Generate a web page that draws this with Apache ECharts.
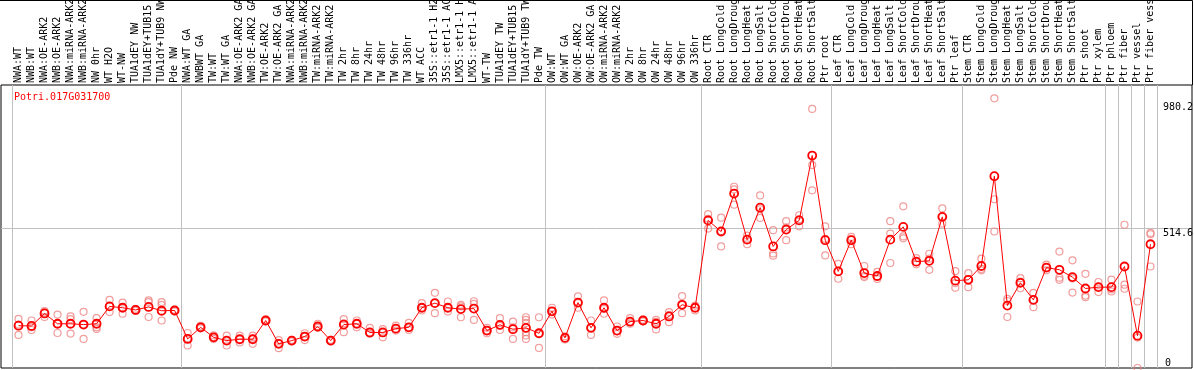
<!DOCTYPE html>
<html>
<head>
<meta charset="utf-8">
<style>
  html, body { margin: 0; padding: 0; background: #fff; }
  #chart { width: 1194px; height: 370px; }
</style>
<script src="https://cdn.jsdelivr.net/npm/echarts@6/dist/echarts.min.js"></script>
</head>
<body>
<div id="chart"></div>
<script>
const geneName = 'Potri.017G031700';

const categories = [
  'NWA:WT', 'NWB:WT', 'NWA:OE-ARK2', 'NWB:OE-ARK2', 'NWA:miRNA-ARK2', 'NWB:miRNA-ARK2',
  'NW 0hr', 'WT H2O', 'WT-NW', 'TUA1dEY NW', 'TUA1dEY+TUB15 NW', 'TUA1dY+TUB9 NW', 'Pde NW',
  'NWA:WT GA', 'NWBWT GA', 'TW:WT', 'TW:WT GA', 'NWA:OE-ARK2 GA', 'NWB:OE-ARK2 GA',
  'TW:OE-ARK2', 'TW:OE-ARK2 GA', 'NWA:miRNA-ARK2', 'NWB:miRNA-ARK2', 'TW:miRNA-ARK2', 'TW:miRNA-ARK2',
  'TW 2hr', 'TW 8hr', 'TW 24hr', 'TW 48hr', 'TW 96hr', 'TW 336hr', 'WT ACC',
  '35S::etr1-1 H2O', '35S::etr1-1 ACC', 'LMX5::etr1-1 H2O', 'LMX5::etr1-1 ACC',
  'WT-TW', 'TUA1dEY TW', 'TUA1dEY+TUB15 TW', 'TUA1dY+TUB9 TW', 'Pde TW',
  'OW:WT', 'OW:WT GA', 'OW:OE-ARK2', 'OW:OE-ARK2 GA', 'OW:miRNA-ARK2', 'OW:miRNA-ARK2',
  'OW 2hr', 'OW 8hr', 'OW 24hr', 'OW 48hr', 'OW 96hr', 'OW 336hr',
  'Root CTR', 'Root LongCold', 'Root LongDrought', 'Root LongHeat', 'Root LongSalt',
  'Root ShortCold', 'Root ShortDrought', 'Root ShortHeat', 'Root ShortSalt', 'Ptr root',
  'Leaf CTR', 'Leaf LongCold', 'Leaf LongDrought', 'Leaf LongHeat', 'Leaf LongSalt',
  'Leaf ShortCold', 'Leaf ShortDrought', 'Leaf ShortHeat', 'Leaf ShortSalt', 'Ptr leaf',
  'Stem CTR', 'Stem LongCold', 'Stem LongDrought', 'Stem LongHeat', 'Stem LongSalt',
  'Stem ShortCold', 'Stem ShortDrought', 'Stem ShortHeat', 'Stem ShortSalt', 'Ptr shoot',
  'Ptr xylem', 'Ptr phloem', 'Ptr fiber', 'Ptr vessel', 'Ptr fiber vessel'
];

// mean expression per sample (red line)
const meanValues = [
  156, 155, 201, 163, 163, 160, 163, 227, 222, 214, 225, 211, 212,
  107, 150, 113, 101, 106, 106, 175, 89, 101, 116, 153, 101, 160, 163, 131, 131, 145,
  150, 222, 239, 222, 217, 219, 138, 159, 143, 148, 128,
  209, 111, 241, 148, 222, 138, 171, 175, 163, 190, 233, 222,
  544, 503, 643, 473, 591, 448, 510, 544, 783, 471,
  356, 471, 350, 339, 473, 520, 392, 395, 557, 322,
  325, 376, 707, 230, 314, 251, 370, 362, 335, 293,
  298, 298, 374, 119, 456
];

// individual replicates (pink circles)
const replicates = [
  [181, 160, 122], [175, 150, 140], [210, 205, 188], [197, 163, 129], [190, 180, 127],
  [207, 160, 107], [184, 150, 144], [251, 227, 206], [241, 224, 200], [218, 214, 210],
  [249, 243, 188], [243, 233, 175], [215, 212, 209],
  [129, 110, 83], [155, 150, 146], [120, 113, 107], [119, 101, 83], [119, 106, 94],
  [119, 108, 89], [178, 175, 172], [103, 90, 73], [104, 101, 98], [128, 116, 103],
  [163, 153, 148], [104, 101, 98], [180, 165, 132], [175, 163, 150], [148, 130, 126],
  [143, 130, 113], [156, 145, 138], [166, 150, 140], [239, 222, 212], [277, 239, 202],
  [245, 222, 208], [233, 227, 187], [246, 236, 177], [148, 138, 128], [184, 155, 140],
  [171, 150, 107], [187, 177, 166, 132, 120, 107], [187, 125, 74],
  [222, 209, 197], [117, 111, 105], [264, 240, 222], [175, 148, 122], [249, 218, 200],
  [153, 136, 126], [184, 168, 163], [178, 175, 172], [177, 170, 142], [206, 195, 169],
  [265, 233, 202], [230, 222, 212],
  [567, 550, 514], [554, 505, 448], [668, 658, 602], [488, 475, 456], [636, 585, 553],
  [508, 422, 414], [541, 518, 471], [563, 548, 522], [955, 748, 655], [522, 476, 415],
  [384, 356, 329], [483, 474, 456], [376, 340, 335], [354, 335, 328], [541, 495, 387],
  [596, 485, 478], [405, 390, 382], [421, 403, 362], [588, 557, 532], [357, 313, 296],
  [350, 327, 298], [403, 365, 360], [994, 622, 503], [255, 247, 188], [331, 318, 294],
  [277, 252, 224], [381, 370, 360], [429, 333, 325], [397, 330, 278], [347, 267, 261],
  [317, 298, 280], [326, 290, 282], [528, 307, 292], [245, 112, 0], [498, 493, 374]
];

// first sample of each block, a separator line is drawn before it
const groupStarts = [0, 13, 41, 53, 63, 73, 84, 85, 86, 87];
const yTickLabels = [514.6, 980.2];
const yMax = 1043;

const chart = echarts.init(document.getElementById('chart'));

const repPoints = [];
replicates.forEach((vals, i) => {
  vals.forEach(v => repPoints.push([i, v]));
});

const mono = 'DejaVu Sans Mono';
const isGroupStart = idx => groupStarts.includes(idx);

const option = {
  animation: false,
  title: {
    text: geneName,
    left: 9,
    top: 87,
    textStyle: { color: '#ff0000', fontSize: 10, fontWeight: 'normal', fontFamily: mono }
  },
  grid: [
    { left: 12, right: 37, top: 85, bottom: 2, outerBoundsMode: 'none' },
    { left: 1, right: 2, top: 85, bottom: 2, outerBoundsMode: 'none', show: true, borderColor: '#000', borderWidth: 1, backgroundColor: 'transparent' }
  ],
  xAxis: [
    {
      gridIndex: 0,
      type: 'category',
      position: 'top',
      data: categories,
      boundaryGap: true,
      axisLine: { show: false },
      axisTick: { show: true, inside: false, length: 85, interval: isGroupStart, lineStyle: { color: '#c0c0c0' } },
      splitLine: { show: true, interval: isGroupStart, lineStyle: { color: '#c0c0c0' } },
      axisLabel: { interval: 0, rotate: 90, margin: 2, fontSize: 10, fontFamily: mono, color: '#000', hideOverlap: false }
    },
    { gridIndex: 1, type: 'value', show: false, min: 0, max: 1 }
  ],
  yAxis: [
    {
      gridIndex: 0,
      type: 'value',
      position: 'right',
      min: 0,
      max: yMax,
      axisLine: { show: false },
      axisTick: { show: false },
      splitLine: { show: false },
      axisLabel: {
        customValues: yTickLabels,
        verticalAlign: 'top',
        margin: 6,
        fontSize: 10,
        fontFamily: mono,
        color: '#000',
        formatter: v => String(v)
      }
    },
    {
      gridIndex: 0,
      type: 'value',
      position: 'right',
      min: 0,
      max: yMax,
      axisLine: { show: false },
      axisTick: { show: false },
      splitLine: { show: false },
      axisLabel: {
        customValues: [0],
        verticalAlign: 'bottom',
        margin: 8,
        fontSize: 10,
        fontFamily: mono,
        color: '#000'
      }
    },
    {
      gridIndex: 1,
      type: 'value',
      min: 0,
      max: yMax,
      axisLine: { show: false },
      axisLabel: { show: false },
      axisTick: { show: false, customValues: [514.6] },
      splitLine: { show: true, lineStyle: { color: '#c0c0c0' } }
    }
  ],
  graphic: [
    {
      type: 'polyline',
      shape: { points: [[0, 0.5], [1192.5, 0.5], [1192.5, 85]] },
      style: { stroke: '#000', lineWidth: 1, fill: null },
      silent: true
    }
  ],
  series: [
    {
      name: 'replicates',
      type: 'scatter',
      xAxisIndex: 0,
      yAxisIndex: 0,
      data: repPoints,
      symbol: 'circle',
      symbolSize: 7,
      itemStyle: { color: 'rgba(0,0,0,0)', borderColor: '#ee8484', borderWidth: 1.2 },
      z: 3
    },
    {
      name: 'mean',
      type: 'line',
      xAxisIndex: 0,
      yAxisIndex: 0,
      data: meanValues,
      symbol: 'circle',
      symbolSize: 8,
      showAllSymbol: true,
      lineStyle: { color: '#ff0000', width: 1 },
      itemStyle: { color: 'rgba(0,0,0,0)', borderColor: '#ff0000', borderWidth: 1.8 },
      z: 4
    }
  ]
};

chart.setOption(option);
</script>
</body>
</html>
